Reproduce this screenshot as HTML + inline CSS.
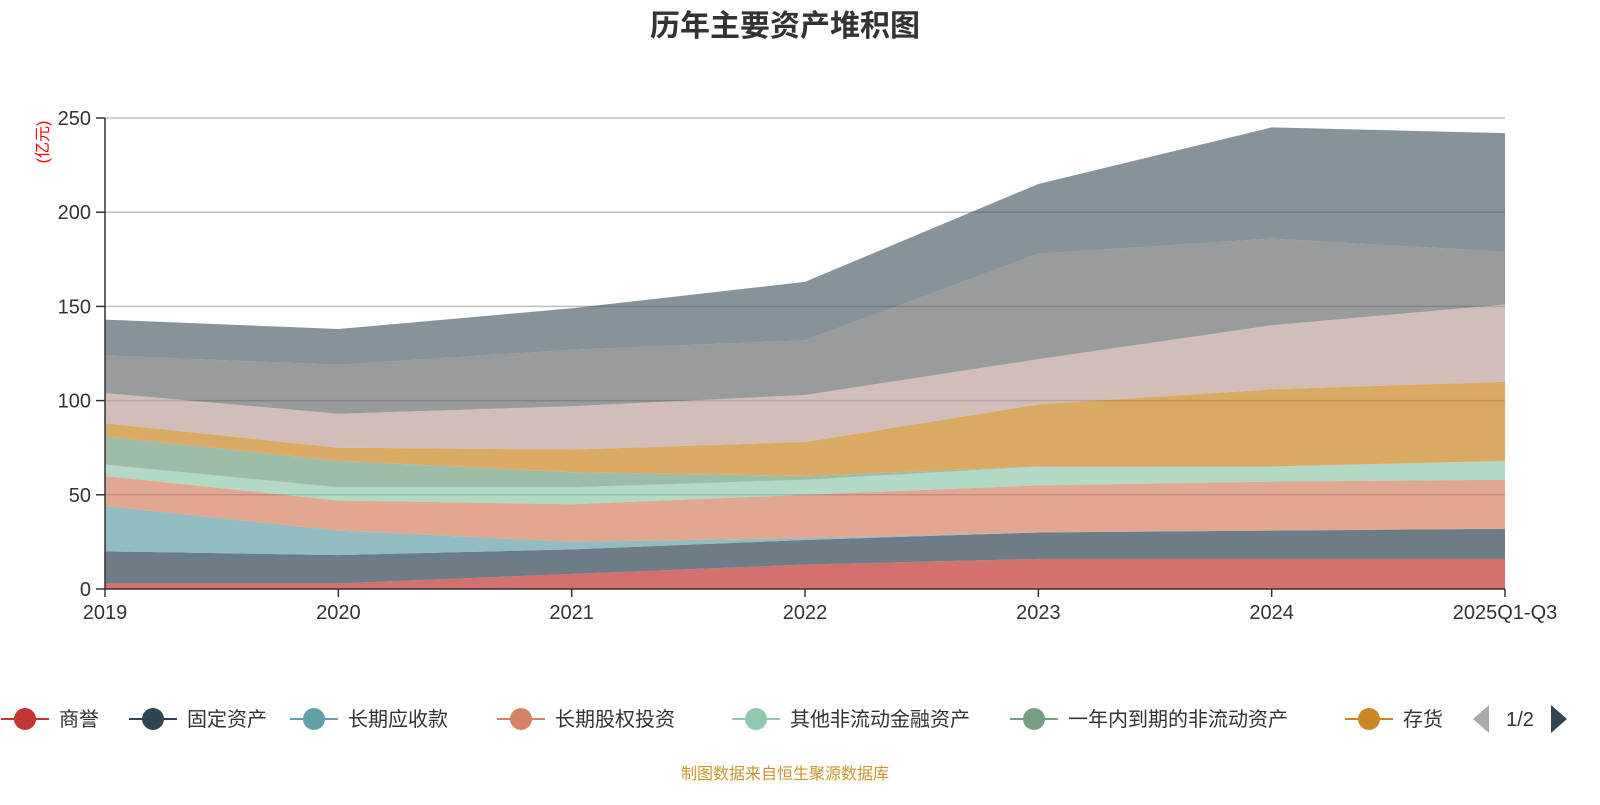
<!DOCTYPE html>
<html><head><meta charset="utf-8"><style>
body{margin:0;background:#fff;font-family:"Liberation Sans","Noto Sans CJK SC",sans-serif;}
svg text{font-family:"Liberation Sans","Noto Sans CJK SC",sans-serif;}
</style></head><body>
<svg id="chart" width="1600" height="800">
<text x="785" y="36" text-anchor="middle" font-size="30" font-weight="bold" fill="#333">历年主要资产堆积图</text>
<text transform="translate(48,142) rotate(-90)" text-anchor="middle" font-size="16" fill="red">(亿元)</text>
<g id="grid"></g><g id="areas"></g><g id="grid2"></g><g id="axes"></g><g id="legend"></g>
<text x="785" y="779" text-anchor="middle" font-size="16" fill="#c8962e">制图数据来自恒生聚源数据库</text>
</svg>
<script>
const categories=["2019","2020","2021","2022","2023","2024","2025Q1-Q3"];
const seriesNames=["商誉","固定资产","长期应收款","长期股权投资","其他非流动金融资产","一年内到期的非流动资产","存货","其他1","其他2","其他3"];
const s1=[3,3,8,13,16,16,16];
const s2=[17,15,13,13,14,15,16];
const s3=[24,13,4,1,0,0,0];
const s4=[16,16,20,23,25,26,26];
const s5=[6,7,9,8,10,8,10];
const s6=[15,14,8,2,0,0,0];
const s7=[7,7,12,18,33,41,42];
const s8=[16,18,23,25,24,34,41];
const s9=[20,26,30,29,56,46,28];
const s10=[19,19,22,31,37,59,63];
const yTicks=[0,50,100,150,200,250];
const series=[s1,s2,s3,s4,s5,s6,s7,s8,s9,s10];
const colors=["#c23531","#2f4554","#61a0a8","#d48265","#91c7ae","#749f83","#ca8622","#bda29a","#6e7074","#546570"];
const NS="http://www.w3.org/2000/svg";
const x0=105,x1=1505,y0=589,y1=118;
const xs=i=>x0+i*(x1-x0)/(categories.length-1);
const ys=v=>y0-v*(y0-y1)/250;
function mk(t,a,p){const e=document.createElementNS(NS,t);for(const k in a)e.setAttribute(k,a[k]);p.appendChild(e);return e;}
const grid=document.getElementById('grid'),grid2=document.getElementById('grid2');
yTicks.forEach(t=>{if(t===0)return;
 const l=mk('line',{x1:x0,x2:x1,y1:ys(t),y2:ys(t),stroke:'#ccc','stroke-width':1.5},grid);
 
 
 const l2=mk('line',{x1:x0,x2:x1,y1:ys(t),y2:ys(t),stroke:'rgba(0,0,0,0.06)','stroke-width':1.5},grid2);
 
 
});
const areas=document.getElementById('areas');
let base=categories.map(()=>0);
series.forEach((s,k)=>{
 const top=base.map((b,i)=>b+s[i]);
 let d='M'+top.map((v,i)=>xs(i)+','+ys(v)).join('L');
 for(let i=categories.length-1;i>=0;i--)d+='L'+xs(i)+','+ys(base[i]);
 d+='Z';
 const p=mk('path',{d:d,fill:colors[k],'fill-opacity':0.7,stroke:'none'},areas);
 
 
 base=top;
});
const axes=document.getElementById('axes');
mk('line',{x1:x0,x2:x0,y1:y1,y2:y0,stroke:'#333','stroke-width':1.5},axes);
mk('line',{x1:x0,x2:x1,y1:y0,y2:y0,stroke:'#333','stroke-width':1.5},axes);
yTicks.forEach(t=>{
 mk('line',{x1:x0-9,x2:x0,y1:ys(t),y2:ys(t),stroke:'#333','stroke-width':1.5},axes);
 const tx=mk('text',{x:x0-14,y:ys(t)+7,'text-anchor':'end','font-size':20,fill:'#333'},axes);
 tx.textContent=t;
 
 
});
categories.forEach((c,i)=>{
 mk('line',{x1:xs(i),x2:xs(i),y1:y0,y2:y0+8,stroke:'#333','stroke-width':1.5},axes);
 const tx=mk('text',{x:xs(i),y:619,'text-anchor':'middle','font-size':20,fill:'#333'},axes);
 tx.textContent=c;
 
 
});
const leg=document.getElementById('legend');
const lx=[25,153,314,521,756,1034,1369];
for(let k=0;k<7;k++){
 const g=mk('g',{},leg);
 
 
 mk('line',{x1:lx[k]-24,x2:lx[k]+24,y1:719,y2:719,stroke:colors[k],'stroke-width':2},g);
 mk('circle',{cx:lx[k],cy:719,r:11,fill:colors[k]},g);
 const t=mk('text',{x:lx[k]+34,y:726,'font-size':20,fill:'#333'},g);
 t.textContent=seriesNames[k];
}
const pl=mk('path',{d:'M1489,705L1473,719L1489,733Z',fill:'#aaa'},leg);


const pt=mk('text',{x:1520,y:726,'text-anchor':'middle','font-size':20,fill:'#333'},leg);
pt.textContent='1/2';


const pr=mk('path',{d:'M1551,705L1567,719L1551,733Z',fill:'#2f4554'},leg);


</script>
</body></html>
